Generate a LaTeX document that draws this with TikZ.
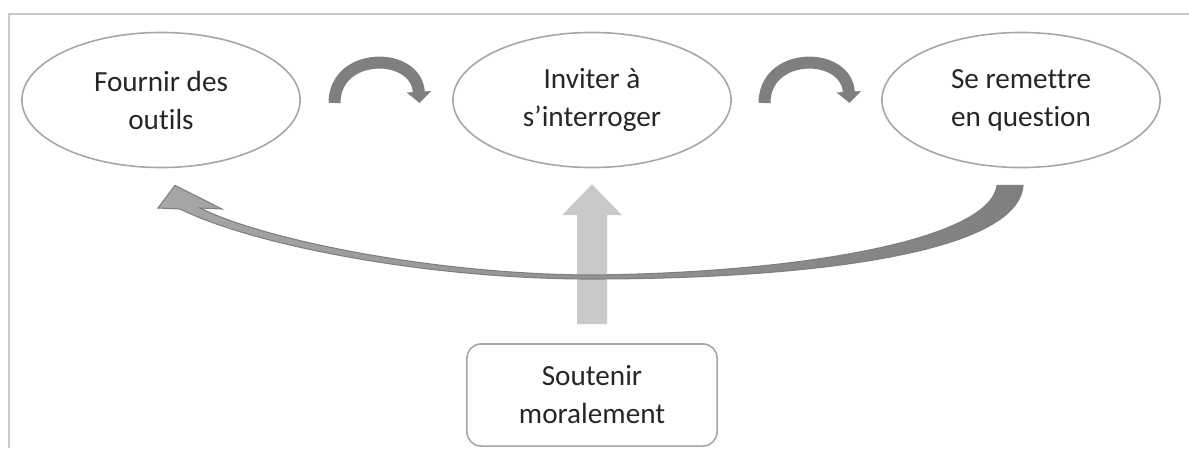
\documentclass[tikz,border=0pt]{standalone}
\usepackage{fontspec}
\setmainfont{Carlito}[Ligatures=NoCommon]
\usetikzlibrary{shapes.geometric,arrows.meta,calc}
\definecolor{rim}{HTML}{A6A6A6}
\definecolor{framegray}{HTML}{C8C8C8}
\definecolor{darkarrow}{HTML}{7F7F7F}
\definecolor{headgray}{HTML}{A6A6A6}
\definecolor{lightarrow}{HTML}{C9C9C9}
\tikzset{
  stage/.style={ellipse, draw=rim, line width=0.45pt, minimum width=2.78cm, minimum height=1.35cm,
    inner sep=0pt, align=center, text=black!85, font=\fontsize{8.3pt}{10.8pt}\selectfont},
  supportbox/.style={rectangle, rounded corners=4pt, draw=rim, line width=0.45pt, minimum width=2.5cm,
    minimum height=1.02cm, inner sep=0pt, align=center, text=black!85, font=\fontsize{8.3pt}{10.8pt}\selectfont},
  hop/.style={darkarrow, line width=3.4pt, -{Triangle[width=6.8pt,length=3.2pt]}}
}
\begin{document}
\begin{tikzpicture}[x=0.01cm, y=0.01cm]
\useasboundingbox (0,0) rectangle (1189,-448);
\draw[framegray, line width=0.6pt] (9,-448) -- (9,-14) -- (1189,-14);
\node[stage] (outils) at (161,-100) {Fournir des\\outils};
\node[stage] (interroger) at (592,-100) {Inviter à\\s’interroger};
\node[stage] (remettre) at (1021,-100) {Se remettre\\en question};
\node[supportbox] (soutenir) at (592,-395) {Soutenir\\moralement};
\foreach \a/\b in {outils/interroger, interroger/remettre}
  \draw[hop] ($(\a.east)!0.5!(\b.west)+(-42,-3)$) .. controls +(0,52) and +(-3,52) .. ++(85,0);
\fill[lightarrow] ($(soutenir.north)+(-15,19)$) -- ++(0,109) -- ++(-15,0) -- ++(30,31)
  -- ++(30,-31) -- ++(-15,0) -- ++(0,-109) -- cycle;
\coordinate (tip) at ($(outils.south)+(14,-17)$);
\coordinate (tail) at ($(remettre.south)+(-24,-17)$);
\path[left color=headgray, right color=darkarrow, draw=darkarrow, line width=0.3pt]
  (tip) -- (222,-209) -- (200,-208)
  .. controls (262,-239) and (430,-274) .. (590,-275)
  .. controls (800,-273) and (990,-240) .. (tail)
  -- ++(26,0)
  .. controls (1018,-255) and (800,-279) .. (590,-279)
  .. controls (430,-279) and (255,-246) .. (180,-209)
  -- (158,-208) -- cycle;
\end{tikzpicture}
\end{document}
